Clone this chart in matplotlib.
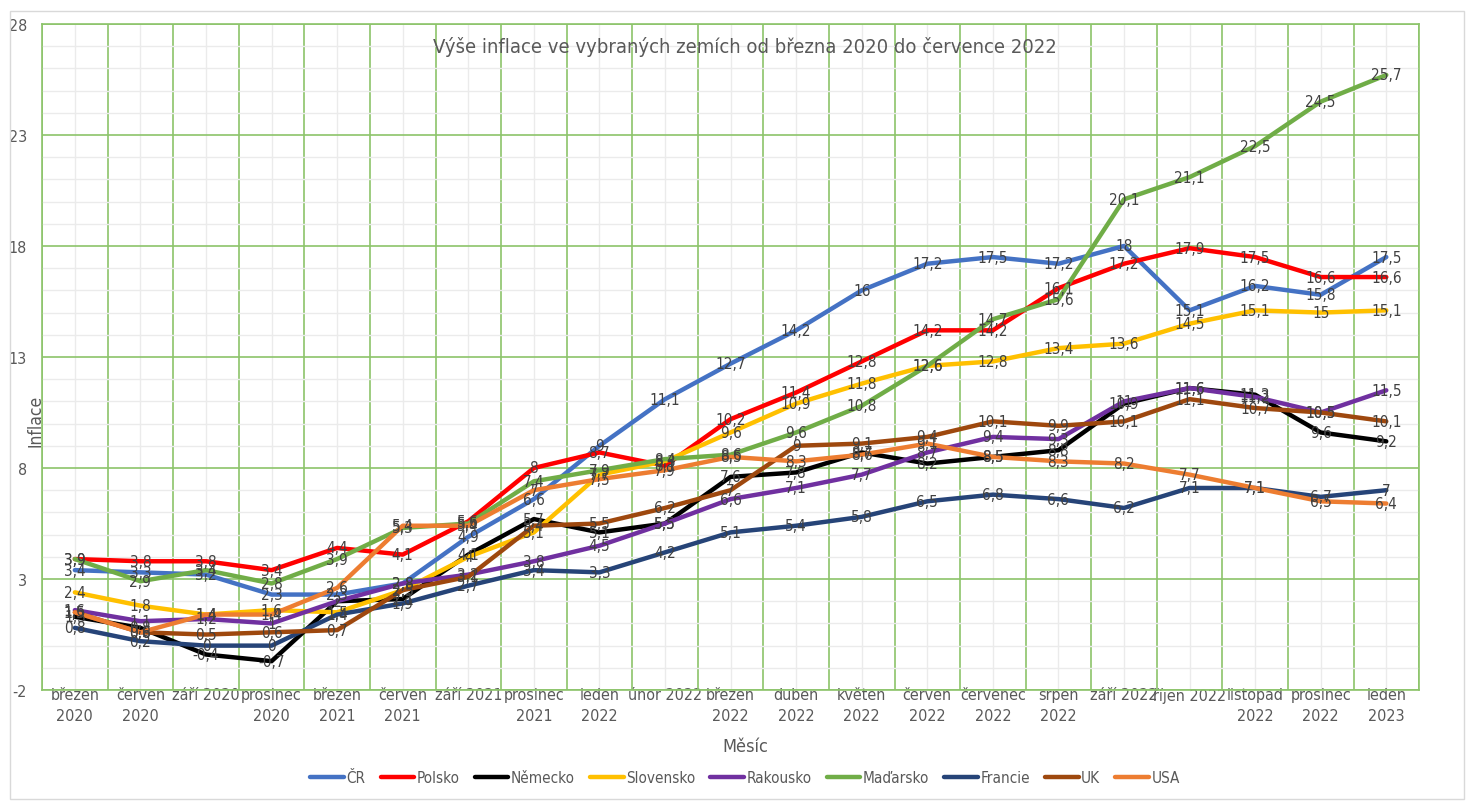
import numpy as np
import matplotlib
matplotlib.use('Agg')
import matplotlib.pyplot as plt
from matplotlib.ticker import FixedLocator
from matplotlib.patches import Rectangle

plt.rcParams['font.family'] = ['DejaVu Sans']
plt.rcParams['font.stretch'] = 'condensed'
plt.rcParams['axes.unicode_minus'] = False

months = ['březen\n2020', 'červen\n2020', 'září 2020', 'prosinec\n2020', 'březen\n2021',
          'červen\n2021', 'září 2021', 'prosinec\n2021', 'leden\n2022', 'únor 2022',
          'březen\n2022', 'duben\n2022', 'květen\n2022', 'červen\n2022', 'červenec\n2022',
          'srpen\n2022', 'září 2022', 'říjen 2022', 'listopad\n2022', 'prosinec\n2022',
          'leden\n2023']

cr = [3.4, 3.3, 3.2, 2.3, 2.3, 2.8, 4.9, 6.6, 9, 11.1, 12.7, 14.2, 16, 17.2, 17.5,
      17.2, 18, 15.1, 16.2, 15.8, 17.5]
polsko = [3.9, 3.8, 3.8, 3.4, 4.4, 4.1, 5.6, 8, 8.7, 8.1, 10.2, 11.4, 12.8, 14.2, 14.2,
          16.1, 17.2, 17.9, 17.5, 16.6, 16.6]
nemecko = [1.3, 0.8, -0.4, -0.7, 2, 2.1, 4.1, 5.7, 5.1, 5.5, 7.6, 7.8, 8.7, 8.2, 8.5,
           8.8, 10.9, 11.6, 11.3, 9.6, 9.2]
slovensko = [2.4, 1.8, 1.4, 1.6, 1.5, 2.5, 4, 5.1, 7.7, 8.3, 9.6, 10.9, 11.8, 12.6, 12.8,
             13.4, 13.6, 14.5, 15.1, 15, 15.1]
rakousko = [1.6, 1.1, 1.2, 1, 2, 2.8, 3.2, 3.8, 4.5, 5.5, 6.6, 7.1, 7.7, 8.7, 9.4,
            9.3, 11, 11.6, 11.2, 10.5, 11.5]
madarsko = [3.9, 2.9, 3.4, 2.8, 3.9, 5.3, 5.5, 7.4, 7.9, 8.4, 8.6, 9.6, 10.8, 12.6, 14.7,
            15.6, 20.1, 21.1, 22.5, 24.5, 25.7]
francie = [0.8, 0.2, 0, 0, 1.4, 1.9, 2.7, 3.4, 3.3, 4.2, 5.1, 5.4, 5.8, 6.5, 6.8,
           6.6, 6.2, 7.1, 7.1, 6.7, 7]
uk = [1.5, 0.6, 0.5, 0.6, 0.7, 2.5, 3.1, 5.4, 5.5, 6.2, 7, 9, 9.1, 9.4, 10.1,
      9.9, 10.1, 11.1, 10.7, 10.5, 10.1]
usa = [1.5, 0.6, 1.4, 1.4, 2.6, 5.4, 5.4, 7, 7.5, 7.9, 8.5, 8.3, 8.6, 9.1, 8.5,
       8.3, 8.2, 7.7, 7.1, 6.5, 6.4]

series = [('ČR', cr, '#4472C4'), ('Polsko', polsko, '#FF0000'),
          ('Německo', nemecko, '#000000'), ('Slovensko', slovensko, '#FFC000'),
          ('Rakousko', rakousko, '#7030A0'), ('Maďarsko', madarsko, '#70AD47'),
          ('Francie', francie, '#264478'), ('UK', uk, '#9E480E'), ('USA', usa, '#ED7D31')]

def fmt(v):
    if float(v).is_integer():
        return str(int(v))
    return ('%.1f' % v).replace('.', ',')

fig = plt.figure(figsize=(14.71, 8.04), dpi=100)
fig.patches.append(Rectangle((0.007, 0.005), 0.988, 0.98, transform=fig.transFigure,
                             fill=False, edgecolor='#D9D9D9', lw=1))
ax = fig.add_axes([0.0286, 0.1405, 0.9361, 0.8285])

x = np.arange(len(months))
for name, vals, col in series:
    ax.plot(x, vals, color=col, lw=3.2, label=name, zorder=3, solid_capstyle='round')
for name, vals, col in series:
    for xi, v in zip(x, vals):
        ax.text(xi, v, fmt(v), ha='center', va='center', fontsize=11,
                color='#404040', zorder=10)

ax.set_xlim(-0.5, 20.5)
ax.set_ylim(-2, 28)
ax.set_xticks(x)
ax.set_xticklabels(months, fontsize=11.5, color='#595959', linespacing=1.5)
ax.xaxis.set_minor_locator(FixedLocator(np.arange(-0.5, 21, 1)))
ax.yaxis.set_major_locator(FixedLocator(np.arange(-2, 29, 5)))
ax.yaxis.set_minor_locator(FixedLocator(np.arange(-2, 29, 1)))
ax.tick_params(axis='both', which='both', length=0)
ax.tick_params(axis='x', pad=-2)
ax.tick_params(axis='y', labelsize=11.5, labelcolor='#595959', pad=11)
ax.grid(which='major', axis='y', color='#8CC46A', lw=1.2, zorder=1)
ax.grid(which='minor', axis='y', color='#EBEBEB', lw=1, zorder=0)
ax.grid(which='minor', axis='x', color='#8CC46A', lw=1.2, zorder=1)
ax.grid(which='major', axis='x', color='#EBEBEB', lw=1, zorder=0)
ax.set_axisbelow(True)
for s in ax.spines.values():
    s.set_color('#8CC46A')
    s.set_linewidth(1.2)

fig.text(0.5065, 0.9415, 'Výše inflace ve vybraných zemích od března 2020 do července 2022',
         ha='center', va='center', fontsize=14.5, color='#595959')
fig.text(0.5065, 1 - 747 / 804, 'Měsíc', ha='center', va='center', fontsize=13, color='#595959')
fig.text(36 / 1471, 1 - 421 / 804, 'Inflace', ha='center', va='center', rotation=90,
         fontsize=12.5, color='#595959')

fig.legend(loc='center', bbox_to_anchor=(0.5065, 1 - 779 / 804), ncol=9, frameon=False,
           fontsize=11, labelcolor='#595959', handlelength=2.2, handletextpad=0.15,
           columnspacing=1.0)

fig.savefig('out.png', dpi=100)
